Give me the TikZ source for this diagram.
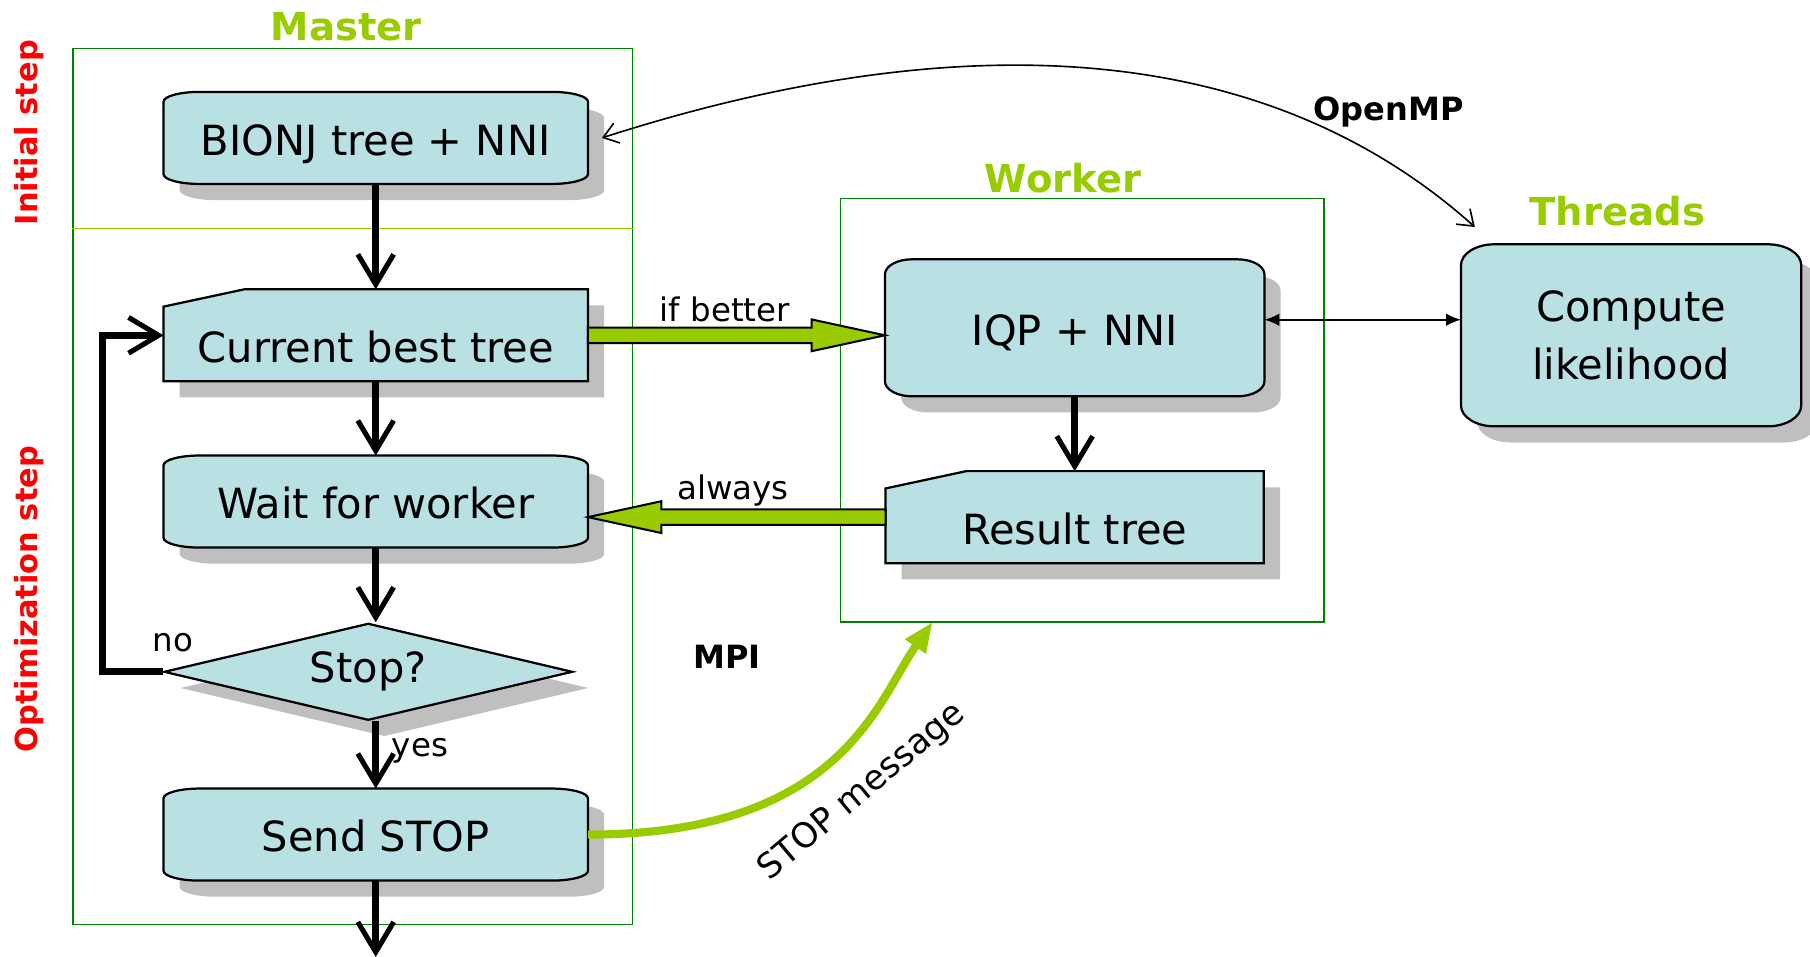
\documentclass[tikz,border=0pt]{standalone}
\usepackage{fontspec}
\setmainfont{DejaVu Sans}
\usepackage{tikz}
\usetikzlibrary{positioning,arrows.meta,shapes.geometric,shadows,backgrounds,calc}

\definecolor{boxfill}{RGB}{185,224,227}
\definecolor{ygreen}{RGB}{153,204,0}
\definecolor{fgreen}{RGB}{0,128,0}
\definecolor{shadowgray}{RGB}{191,191,191}

% box with flat elliptic corners round node #1
\newcommand\ovalbox[3]{%
  \draw[boxline] ([yshift=-#3]#1.north west) arc[start angle=180,end angle=90,x radius=#2,y radius=#3]
    -- ([xshift=-#2]#1.north east) arc[start angle=90,end angle=0,x radius=#2,y radius=#3]
    -- ([yshift=#3]#1.south east) arc[start angle=0,end angle=-90,x radius=#2,y radius=#3]
    -- ([xshift=#2]#1.south west) arc[start angle=270,end angle=180,x radius=#2,y radius=#3]
    -- cycle;}
% manual input box round node #1
\newcommand\inputbox[1]{%
  \draw[boxline] ([yshift=-0.3cm]#1.north west) -- ([xshift=1.4cm]#1.north west)
    -- (#1.north east) -- (#1.south east) -- (#1.south west) -- cycle;}
% green block arrow from #1 to #2
\newcommand\fatarrow[2]{%
  \coordinate (fa) at ($(#2)!1.27cm!(#1)$);
  \draw[fat] ([yshift=0.135cm]#1) -- ([yshift=0.135cm]fa) -- ([yshift=0.275cm]fa)
    -- (#2) -- ([yshift=-0.275cm]fa) -- ([yshift=-0.135cm]fa)
    -- ([yshift=-0.135cm]#1) -- cycle;}

\begin{document}
\begin{tikzpicture}[node distance=2cm,on grid,
    txt/.style={inner sep=0pt,font=\fontsize{20.5}{28.5}\selectfont},
    box/.style={txt,minimum width=7.34cm,minimum height=1.58cm,text height=0.6cm,text depth=0pt},
    inbox/.style={box,text height=0.95cm},
    boxshadow/.style={drop shadow={shadow xshift=0.28cm,shadow yshift=-0.28cm,opacity=1,fill=shadowgray}},
    boxline/.style={draw=black,line width=1.1pt,fill=boxfill,boxshadow},
    decision/.style={diamond,aspect=4.2,txt,minimum width=7.08cm,minimum height=1.68cm,draw=black,line width=1.1pt,fill=boxfill,boxshadow},
    frame/.style={draw=fgreen,line width=0.8pt},
    title/.style={font=\fontsize{19}{22}\selectfont\bfseries,text=ygreen},
    phase/.style={font=\fontsize{15}{18}\selectfont\bfseries,text=red,rotate=90},
    lbl/.style={font=\fontsize{16}{19}\selectfont},
    proto/.style={font=\fontsize{15.8}{19}\selectfont\bfseries},
    flow/.style={line width=3.6pt,-{Straight Barb[length=0.52cm,width=0.62cm,line width=2.5pt].}},
    fat/.style={draw=black,line width=1pt,fill=ygreen},
    link/.style={line width=1pt,{Latex[length=0.26cm,width=0.22cm]}-{Latex[length=0.26cm,width=0.22cm]}},
    omp/.style={line width=0.8pt,{Straight Barb[length=0.25cm,width=0.36cm]}-{Straight Barb[length=0.25cm,width=0.36cm]}},
    stopmsg/.style={ygreen,line width=4pt,-{Triangle[length=0.5cm,width=0.45cm,line width=0pt]}}]
  \useasboundingbox (0,0) rectangle (31.36,16.58);

  % master side
  \node[box] (bionj) at (6.51,14.19) {BIONJ tree + NNI};
  \node[inbox] (cur) [below=3.42 of bionj] {Current best tree};
  \node[box] (wait) [below=2.88 of cur] {Wait for worker};
  \node[decision] (stop) [below=2.95 of wait,xshift=-0.13cm] {Stop?};
  \node[box] (send) [below=5.77 of wait] {Send STOP};
  \coordinate[below=2.12 of send] (out);

  % worker and threads
  \node[box,minimum width=6.56cm,minimum height=2.36cm] (iqp) at (18.62,10.9) {IQP + NNI};
  \node[inbox,minimum width=6.54cm] (res) [below=3.28 of iqp] {Result tree};
  \node[txt,minimum width=5.88cm,minimum height=3.14cm,align=center] (thr) at (28.26,10.77) {Compute\\likelihood};

  % frames and titles
  \node[frame,minimum width=9.7cm,minimum height=15.18cm] (master) at (6.11,8.15) {};
  \node[frame,minimum width=8.38cm,minimum height=7.34cm] (worker) at (18.75,9.47) {};
  \node[title] (mastertitle) at ([shift={(-0.11,0.36)}]master.north) {Master};
  \node[title] (workertitle) at ([shift={(-0.33,0.34)}]worker.north) {Worker};
  \node[title] (thrtitle) at ([shift={(-0.24,0.58)}]thr.north) {Threads};
  \node[phase] (initlbl) at (0.5,14.28) {Initial step};
  \node[phase] (optlbl) at (0.5,6.2) {Optimization step};
  \draw[ygreen,line width=0.9pt] (master.west |- 0,12.62) -- (master.east |- 0,12.62);

  \begin{scope}[on background layer]
    \ovalbox{bionj}{0.62cm}{0.17cm}
    \inputbox{cur}
    \ovalbox{wait}{0.62cm}{0.17cm}
    \ovalbox{send}{0.62cm}{0.17cm}
    \ovalbox{iqp}{0.47cm}{0.26cm}
    \inputbox{res}
    \ovalbox{thr}{0.58cm}{0.36cm}
  \end{scope}

  % flow inside master
  \draw[flow] (bionj) -- (cur);
  \draw[flow] (cur) -- (wait);
  \draw[flow] (wait.south) -- (wait.south |- stop.north);
  \draw[flow] (send.north |- stop.south) -- node[lbl,right,pos=0.43,xshift=0.1cm] (yes) {yes} (send.north);
  \draw[flow] (send) -- (out);
  \draw[flow] (stop.west) -- ++(-1.04,0) |- (cur.west);
  \node[lbl] (no) at (3.0,5.44) {no};
  \draw[flow] (iqp) -- (res);

  % MPI messages
  \coordinate (betterend) at (cur.east -| iqp.west);
  \fatarrow{cur.east}{betterend}
  \coordinate (alwaysend) at (res.west -| wait.east);
  \fatarrow{res.west}{alwaysend}
  \node[lbl] (better) at (12.56,11.22) {if better};
  \node[lbl] (always) at (12.7,8.08) {always};
  \coordinate (stoptip) at ([xshift=1.6cm]worker.south west);
  \draw[stopmsg] (send.east) to[out=0,in=-125,out looseness=1.6,in looseness=0.6] (stoptip);
  \node[lbl,font=\fontsize{17}{20}\selectfont,rotate=40] (stoplbl) at (14.94,2.86) {STOP message};
  \node[proto] (mpi) at (12.6,5.2) {MPI};

  % threads
  \coordinate (iqpr) at ([yshift=0.14cm]iqp.east);
  \draw[link] (iqpr) -- (iqpr -| thr.west);
  \draw[omp] ([xshift=0.24cm]bionj.east) .. controls (16.0,15.98) and (21.6,16.18) .. ([shift={(0.24cm,0.3cm)}]thr.north west);
  \node[proto] (openmp) at (24.06,14.64) {OpenMP};
\end{tikzpicture}
\end{document}
